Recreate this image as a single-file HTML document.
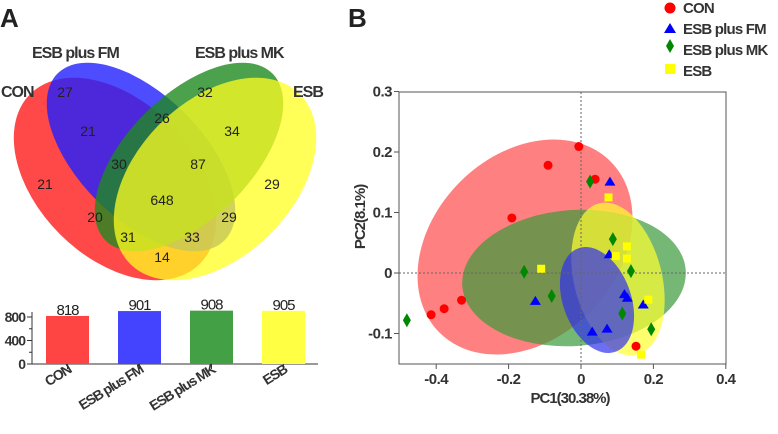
<!DOCTYPE html>
<html><head><meta charset="utf-8"><style>
body{margin:0;background:#fff;}
svg text{font-family:"Liberation Sans",sans-serif;}
</style></head><body>
<svg width="778" height="429" viewBox="0 0 778 429" xmlns="http://www.w3.org/2000/svg">
<text x="0" y="27" font-size="26" font-weight="bold" fill="#222">A</text>
<text x="348" y="27" font-size="26" font-weight="bold" fill="#222">B</text>
<g id="venn">
<ellipse cx="115" cy="179" rx="120" ry="78" transform="rotate(45 115 179)" fill="#ff2020" opacity="0.82"/>
<ellipse cx="141" cy="157" rx="118" ry="62" transform="rotate(45 141 157)" fill="#2020ff" opacity="0.8"/>
<ellipse cx="189" cy="157" rx="118" ry="62" transform="rotate(-45 189 157)" fill="#1f8a1f" opacity="0.8"/>
<ellipse cx="215" cy="179" rx="120" ry="78" transform="rotate(-45 215 179)" fill="#ffff20" opacity="0.75"/>
<g font-size="14" fill="#222" text-anchor="middle">
<text x="65" y="97">27</text><text x="205" y="97">32</text><text x="88" y="136">21</text><text x="162" y="123">26</text><text x="232" y="136">34</text><text x="45" y="189">21</text><text x="119" y="169">30</text><text x="198" y="169">87</text><text x="272" y="189">29</text><text x="162" y="205">648</text><text x="95" y="222">20</text><text x="229" y="222">29</text><text x="128" y="242">31</text><text x="192" y="242">33</text><text x="162" y="262">14</text>
</g>
<g font-size="16" font-weight="bold" fill="#333" letter-spacing="-1">
<text x="32" y="58">ESB plus FM</text><text x="195" y="58">ESB plus MK</text><text x="1" y="97">CON</text><text x="293" y="97">ESB</text>
</g>
</g>
<g id="bars"></g>
<g id="pca"></g>
<g font-size="15" font-weight="bold" fill="#333" letter-spacing="-0.8">
<circle cx="670" cy="8" r="5.5" fill="#f00"/><text x="683" y="13">CON</text>
<polygon points="670,23 664,33 676,33" fill="#00f"/><text x="683" y="34">ESB plus FM</text>
<polygon points="670,39 674,46 670,53 666,46" fill="#080"/><text x="683" y="55">ESB plus MK</text>
<rect x="665" y="64" width="10" height="10" fill="#ff0"/><text x="683" y="76">ESB</text>
</g>
</svg>
<script>
const NS="http://www.w3.org/2000/svg";
const barCats=["CON","ESB plus FM","ESB plus MK","ESB"];
const barVals=[818,901,908,905];
const barColors=["#ff4444","#4444ff","#44a044","#ffff44"];
const barTicks=[0,400,800];
const pcaXTicks=[-0.4,-0.2,0,0.2,0.4];
const pcaYTicks=[-0.1,0,0.1,0.2,0.3];
const conX=[-0.006,-0.091,0.039,-0.191,-0.33,-0.378,-0.414,0.152];
const conY=[0.209,0.178,0.155,0.091,-0.045,-0.059,-0.069,-0.121];
const fmX=[0.08,0.078,-0.126,0.12,0.128,0.172,0.031,0.072];
const fmY=[0.151,0.031,-0.046,-0.035,-0.041,-0.052,-0.097,-0.092];
const mkX=[0.025,0.088,0.138,-0.157,-0.081,0.114,0.194,-0.481];
const mkY=[0.151,0.056,0.003,0.002,-0.038,-0.067,-0.093,-0.078];
const esbX=[0.076,0.127,0.096,0.127,-0.11,0.186,0.166];
const esbY=[0.125,0.044,0.028,0.024,0.007,-0.044,-0.135];

function mk(tag,attrs,parent,text){const e=document.createElementNS(NS,tag);for(const k in attrs)e.setAttribute(k,attrs[k]);if(text!==undefined)e.textContent=text;parent.appendChild(e);return e;}

// bar chart
const bg=document.getElementById('bars');
const by=v=>364-v*(47/800);
const bx=i=>46+i*72;
let ax=mk('line',{x1:32,y1:364,x2:318,y2:364,stroke:'#333','stroke-width':1},bg);


ax=mk('line',{x1:32,y1:312,x2:32,y2:364,stroke:'#333','stroke-width':1},bg);


for(let v=0;v<=800;v+=200){mk('line',{x1:v%400==0?27:29,y1:by(v),x2:32,y2:by(v),stroke:'#333'},bg);}
barTicks.forEach(v=>{const t=mk('text',{x:25,y:by(v)+5,'font-size':14,'font-weight':'bold','text-anchor':'end',fill:'#333','letter-spacing':'-1'},bg,String(v));

});
barCats.forEach((c,i)=>{
 const r=mk('rect',{x:bx(i),y:by(barVals[i]),width:43,height:364-by(barVals[i]),fill:barColors[i]},bg);
 
 
 const t=mk('text',{x:bx(i)+21.5,y:by(barVals[i])-1,'font-size':15,'text-anchor':'middle',fill:'#222','letter-spacing':'-1'},bg,String(barVals[i]));
 
 
 mk('line',{x1:bx(i)+21.5,y1:364,x2:bx(i)+21.5,y2:369,stroke:'#333'},bg);
 const cx=bx(i)+26, cy=372;
 const l=mk('text',{x:cx,y:cy,'font-size':14,'font-weight':'bold','text-anchor':'end',fill:'#333','letter-spacing':'-1.2',transform:`rotate(-32 ${cx} ${cy})`},bg,c);
 
 
});

// PCA
const pg=document.getElementById('pca');
const px=v=>581+v*362;
const py=v=>273-v*605;
const ell=[[525,247,121,92,-45,'#f55','0.75','ellipse-con'],[574,278,112,68,-4,'#3a9a3a','0.7','ellipse-esb-mk'],[618,279,44,78,-14,'#ffff30','0.7','ellipse-esb'],[597,300,34,55,-20,'#3030ee','0.7','ellipse-esb-fm']];
ell.forEach(e=>{const el=mk('ellipse',{cx:e[0],cy:e[1],rx:e[2],ry:e[3],transform:`rotate(${e[4]} ${e[0]} ${e[1]})`,fill:e[5],opacity:e[6]},pg);

});
mk('line',{x1:399,y1:py(0),x2:726,y2:py(0),stroke:'#666','stroke-dasharray':'2,2'},pg);
mk('line',{x1:px(0),y1:92,x2:px(0),y2:364,stroke:'#666','stroke-dasharray':'2,2'},pg);
const fr=mk('rect',{x:399,y:92,width:327,height:272,fill:'none',stroke:'#555','stroke-width':1},pg);


pcaXTicks.forEach(v=>{mk('line',{x1:px(v),y1:364,x2:px(v),y2:369,stroke:'#555'},pg);
const t=mk('text',{x:px(v),y:384,'font-size':15,'font-weight':'bold','text-anchor':'middle',fill:'#333','letter-spacing':'-0.5'},pg,v===0?'0':String(v));

});
pcaYTicks.forEach(v=>{mk('line',{x1:394,y1:py(v),x2:399,y2:py(v),stroke:'#555'},pg);
const t=mk('text',{x:392,y:py(v)+5,'font-size':15,'font-weight':'bold','text-anchor':'end',fill:'#333','letter-spacing':'-0.5'},pg,v===0?'0':String(v));

});
let t=mk('text',{x:570,y:403,'font-size':15,'font-weight':'bold','text-anchor':'middle',fill:'#333','letter-spacing':'-1'},pg,'PC1(30.38%)');


t=mk('text',{x:0,y:0,'font-size':15,'font-weight':'bold','text-anchor':'middle',fill:'#333','letter-spacing':'-1',transform:'translate(365 217) rotate(-90)'},pg,'PC2(8.1%)');


conX.forEach((x,i)=>{const c=mk('circle',{cx:px(x),cy:py(conY[i]),r:4.5,fill:'#f00'},pg);

});
fmX.forEach((x,i)=>{const X=px(x),Y=py(fmY[i]);const c=mk('polygon',{points:`${X},${Y-5} ${X-5.5},${Y+4} ${X+5.5},${Y+4}`,fill:'#00f'},pg);

});
mkX.forEach((x,i)=>{const X=px(x),Y=py(mkY[i]);const c=mk('polygon',{points:`${X},${Y-7} ${X+4},${Y} ${X},${Y+7} ${X-4},${Y}`,fill:'#080'},pg);

});
esbX.forEach((x,i)=>{const c=mk('rect',{x:px(x)-4,y:py(esbY[i])-4,width:8,height:8,fill:'#ff0'},pg);

});
</script>
</body></html>
